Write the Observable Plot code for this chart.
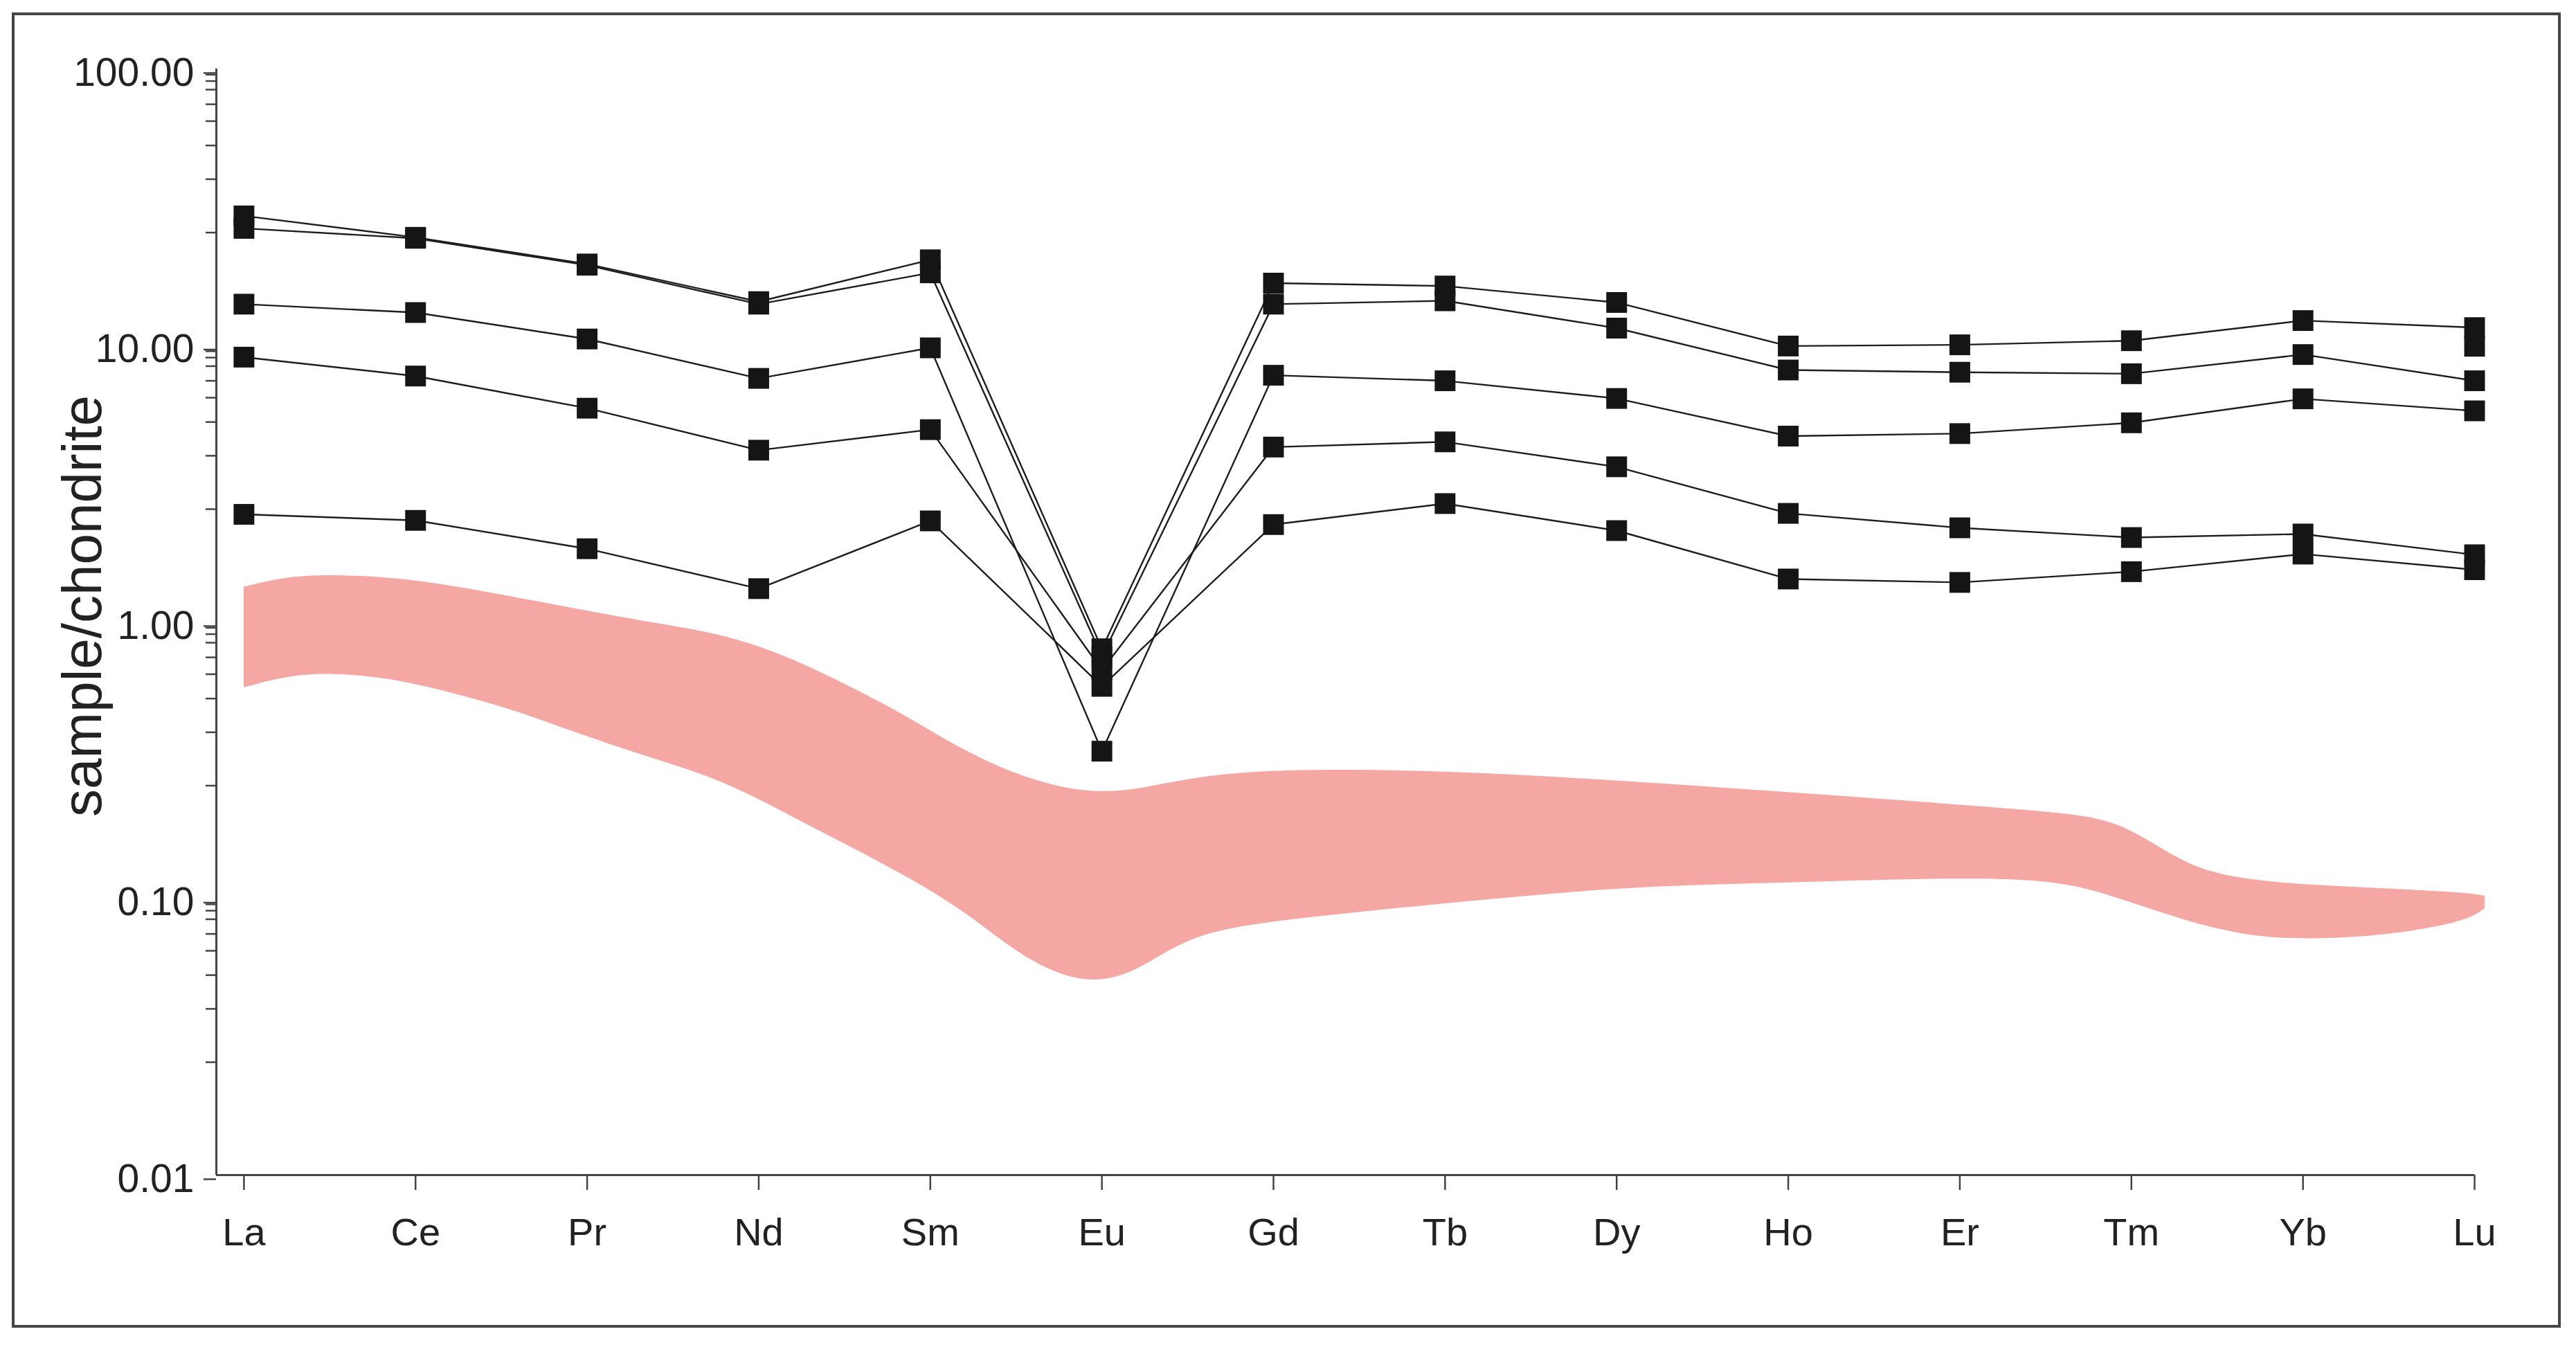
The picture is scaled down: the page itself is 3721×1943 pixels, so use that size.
<!DOCTYPE html>
<html>
<head>
<meta charset="utf-8">
<script src="https://cdn.jsdelivr.net/npm/d3@7"></script>
<script src="https://cdn.jsdelivr.net/npm/@observablehq/plot@0.6"></script>
<style>
  html, body { margin: 0; padding: 0; background: #fff; }
  #wrap { position: relative; width: 3721px; height: 1943px; overflow: hidden; background: #fff; }
  #chart { position: absolute; left: 0; top: 0; }
  #frame { position: absolute; left: 17px; top: 18px; width: 3682px; height: 1900px; box-sizing: border-box; border: 4px solid #454545; pointer-events: none; }
</style>
</head>
<body>
<div id="wrap"><div id="chart"></div><div id="frame"></div></div>
<script>
// REE categories
const elements = ["La","Ce","Pr","Nd","Sm","Eu","Gd","Tb","Dy","Ho","Er","Tm","Yb","Lu"];

// sample/chondrite values, one array per sample
const sample1 = [29.4, 24.6, 19.7, 14.4, 20.4, 0.80, 16.8, 16.4, 14.3, 9.95, 10.05, 10.4, 12.3, 11.6];
const sample2 = [26.5, 24.4, 19.5, 14.1, 18.3, 0.75, 14.1, 14.5, 11.55, 8.15, 8.0, 7.9, 9.27, 7.45];
const sample3 = [14.1, 13.15, 10.55, 7.6, 9.8, 0.341, 7.8, 7.45, 6.43, 4.7, 4.8, 5.25, 6.41, 5.8];
const sample4 = [9.07, 7.75, 5.93, 4.18, 4.96, 0.67, 4.29, 4.48, 3.64, 2.47, 2.19, 2.02, 2.08, 1.75];
const sample5 = [2.45, 2.33, 1.84, 1.32, 2.32, 0.585, 2.25, 2.68, 2.14, 1.43, 1.39, 1.52, 1.76, 1.545];
const extraLuValue = 9.93;

// reference field (pink band): position along the REE axis, lower and upper bounds
const bandPos   = [0, 0.24, 0.51, 0.87, 1.23, 1.59, 1.95, 2.31, 2.77, 3.13, 3.49, 3.85, 4.21, 4.55, 4.9, 5.2, 5.5, 6, 7, 8, 9, 10, 10.6, 10.95, 11.32, 11.66, 12, 12.5, 12.96, 13.06];
const bandUpper = [1.336, 1.455, 1.48, 1.448, 1.346, 1.223, 1.111, 1.009, 0.91, 0.769, 0.603, 0.462, 0.337, 0.272, 0.240, 0.246, 0.272, 0.294, 0.29, 0.267, 0.242, 0.218, 0.204, 0.19, 0.1298, 0.117, 0.112, 0.1084, 0.1047, 0.102];
const bandLower = [0.578, 0.636, 0.655, 0.624, 0.551, 0.477, 0.394, 0.331, 0.2707, 0.2073, 0.1587, 0.1215, 0.0895, 0.060, 0.0485, 0.0535, 0.0735, 0.0833, 0.0957, 0.110, 0.1138, 0.119, 0.116, 0.099, 0.0827, 0.0733, 0.0708, 0.0733, 0.0827, 0.0918];

// axis ticks
const yMajorTicks = [0.01, 0.1, 1, 10, 100];
const minorOffsets = [0.021, 0.044, 0.075, 0.128, 0.189, 0.277, 0.399, 0.592]; // log-offsets below each decade tick

// ---- build tables ----
const samples = [sample1, sample2, sample3, sample4, sample5];
const rows = samples.flatMap((vals, s) => vals.map((v, i) => ({i, v, s})));
const extra = [{i: elements.indexOf("Lu"), v: extraLuValue}];
const band = bandPos.map((x, k) => ({x, lo: bandLower[k], hi: bandUpper[k]}));
const minorTicks = yMajorTicks.slice(1).flatMap(t => minorOffsets.map(o => t * Math.pow(10, -o)));

const xStart = -0.161;
const font = "'Liberation Sans', Arial, Helvetica, sans-serif";

const chart = Plot.plot({
  width: 3721,
  height: 1943,
  marginLeft: 312,
  marginRight: 147,
  marginTop: 99,
  marginBottom: 246,
  style: {fontFamily: font, fontSize: "57px", color: "#222", background: "transparent", overflow: "visible"},
  x: {domain: [xStart, 13]},
  y: {type: "log", domain: [0.01, 100]},
  marks: [
    Plot.areaY(band, {x: "x", y1: "lo", y2: "hi", curve: "basis", fill: "#f5a7a4"}),
    Plot.ruleY([0.01], {stroke: "#444", strokeWidth: 3}),
    Plot.ruleX([xStart], {stroke: "#444", strokeWidth: 3}),
    Plot.axisX({ticks: d3.range(elements.length), tickFormat: i => elements[i], tickSize: 22, tickPadding: 40,
                fontSize: 56, stroke: "#444", strokeWidth: 2.5, fill: "#222", label: null}),
    Plot.axisY({ticks: yMajorTicks, tickFormat: d3.format(".2f"), tickSize: 18, tickPadding: 14,
                fontSize: 57, stroke: "#444", strokeWidth: 2.5, fill: "#222", dy: 6, label: null}),
    Plot.axisY({ticks: minorTicks, tickFormat: () => "", tickSize: 15, stroke: "#444", strokeWidth: 2.5, label: null}),
    Plot.text(["sample/chondrite"], {frameAnchor: "left", dx: -192, dy: -23, rotate: -90,
                fontSize: 80, fill: "#222", textAnchor: "middle"}),
    Plot.line(rows, {x: "i", y: "v", z: "s", stroke: "#1e1e1e", strokeWidth: 2.4}),
    Plot.dot(rows, {x: "i", y: "v", symbol: "square", r: 16.9, fill: "#151515", stroke: "none"}),
    Plot.dot(extra, {x: "i", y: "v", symbol: "square", r: 16.9, fill: "#151515", stroke: "none"})
  ]
});
document.getElementById("chart").appendChild(chart);
</script>
</body>
</html>
